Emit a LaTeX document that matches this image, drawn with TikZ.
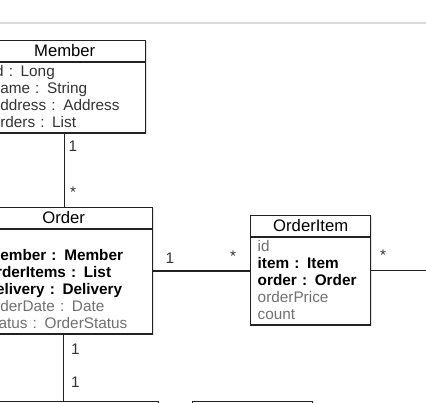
\documentclass[tikz,border=0pt]{standalone}
\usepackage{fontspec}
\setmainfont{Liberation Sans}
\usepackage{tikz}
\usetikzlibrary{arrows.meta, positioning, shapes.multipart, shadows}

\definecolor{boxline}{HTML}{222222}
\definecolor{attrtext}{HTML}{333333}
\definecolor{softtext}{HTML}{707070}
\definecolor{ruleline}{HTML}{DADADA}

\newcommand{\hdstrut}{\rule[-3.5pt]{0pt}{14pt}}
\newcommand{\rowstrut}{\rule[-2.75pt]{0pt}{12.75pt}}
\newcommand{\classtitle}[1]{\hbox to \hsize{\hfil\hdstrut\fontsize{12.5}{14}\selectfont\color{black}#1\hfil}}

\begin{document}
\begin{tikzpicture}[x=0.75pt, y=-0.75pt,
			umlclass/.style={draw=boxline, line width=1.1pt, fill=white, rectangle split, rectangle split parts=2,
				align=left, anchor=north west, inner ysep=0.5pt, text=attrtext,
				font=\fontsize{11.5}{12.75}\selectfont,
				drop shadow={shadow xshift=0.7pt, shadow yshift=-0.7pt, opacity=0.35}},
			lowerbox/.style={draw=boxline, line width=1.1pt, fill=white, anchor=north west, inner sep=0pt,
				minimum height=45pt, drop shadow={shadow xshift=0.7pt, shadow yshift=-0.7pt, opacity=0.35}},
			mult/.style={inner sep=0pt, text=attrtext, font=\fontsize{11.5}{12.75}\selectfont},
			link/.style={draw=boxline, line width=1.1pt}]
			
			% Frame of the screenshot
			\useasboundingbox (0,0) rectangle (426,403);
			\clip (0,0) rectangle (426,403);
			\draw[ruleline, line width=1.5pt] (0,23) -- (426,23);
			
			% Drawing the classes
			\node[umlclass, text width=109.5pt, inner xsep=6pt] (member) at (-17,40) {%
				\classtitle{Member}
				\nodepart{two}\rowstrut id : Long\\
				\rowstrut name : String\\
				\rowstrut address : Address\\
				\rowstrut orders : List};
			\node[umlclass, text width=115.5pt, inner xsep=9pt] (order) at (-26,207) {%
				\classtitle{Order}
				\nodepart{two}\rowstrut\\
				\rowstrut\textcolor{black}{\textbf{member : Member}}\\
				\rowstrut\textcolor{black}{\textbf{orderItems : List}}\\
				\rowstrut\textcolor{black}{\textbf{delivery : Delivery}}\\
				\rowstrut\textcolor{softtext}{orderDate : Date}\\
				\rowstrut\textcolor{softtext}{status : OrderStatus}};
			\node[umlclass, text width=79.5pt, inner xsep=5.25pt] (orderitem) at (250,215) {%
				\classtitle{OrderItem}
				\nodepart{two}\rowstrut\textcolor{softtext}{id}\\
				\rowstrut\textcolor{black}{\textbf{item : Item}}\\
				\rowstrut\textcolor{black}{\textbf{order : Order}}\\
				\rowstrut\textcolor{softtext}{orderPrice}\\
				\rowstrut\textcolor{softtext}{count}};
			\node[lowerbox, minimum width=141pt] (delivery) at (-30,401) {};
			\node[lowerbox, minimum width=90pt] (item) at (192,401) {};
			\coordinate[right=60pt of orderitem.east] (itemout);
			
			% Connecting the classes
			\draw[link] (member.south) -- (member.south |- order.north);
			\draw[link] (order.east) -- (order.east -| orderitem.west);
			\draw[link] (orderitem.east) -- (itemout);
			\draw[link] (order.south) -- (order.south |- delivery.north);
			
			% Multiplicities
			\node[mult] (m1) at (73,146) {1};
			\node[mult] (m2) at (73,192) {*};
			\node[mult] (m3) at (170,258) {1};
			\node[mult] (m4) at (233,256) {*};
			\node[mult] (m5) at (383,255) {*};
			\node[mult] (m6) at (75.5,349) {1};
			\node[mult] (m7) at (75.5,382.5) {1};
		\end{tikzpicture}
\end{document}
